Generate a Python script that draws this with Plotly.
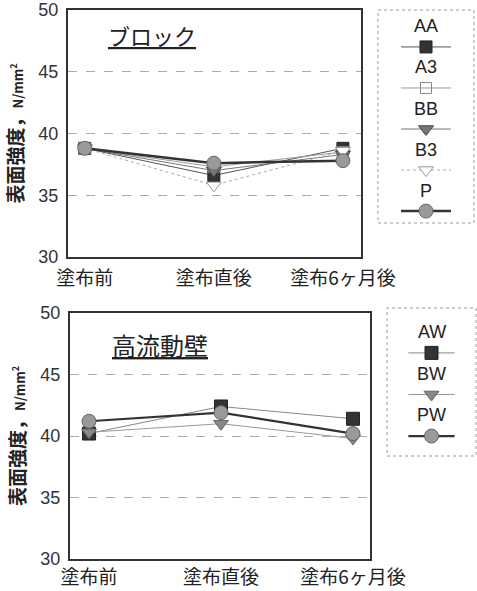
import plotly.graph_objects as go

categories = ["塗布前", "塗布直後", "塗布6ヶ月後"]

# Top chart (ブロック)
top_names = ["AA", "A3", "BB", "B3", "P"]
top_AA = [38.8, 36.6, 38.8]
top_A3 = [38.8, 37.3, 38.5]
top_BB = [38.8, 37.0, 38.3]
top_B3 = [38.8, 35.8, 38.6]
top_P = [38.8, 37.6, 37.8]
top_values = [top_AA, top_A3, top_BB, top_B3, top_P]

# Bottom chart (高流動壁)
bot_names = ["AW", "BW", "PW"]
bot_AW = [40.2, 42.4, 41.4]
bot_BW = [40.3, 41.0, 39.8]
bot_PW = [41.2, 41.9, 40.2]
bot_values = [bot_AW, bot_BW, bot_PW]

y_ticks = [30, 35, 40, 45, 50]

W, H = 477, 591
def px_x(a, b):
    return [a / W, b / W]
def px_y(top, bottom):
    return [1 - bottom / H, 1 - top / H]

styles = {
    "AA": dict(line=dict(color="#555", width=1), marker=dict(symbol="square", size=12, color="#333", line=dict(color="#222", width=1))),
    "A3": dict(line=dict(color="#999", width=1), marker=dict(symbol="square-open", size=11, color="#888", line=dict(color="#888", width=1))),
    "BB": dict(line=dict(color="#777", width=1), marker=dict(symbol="triangle-down", size=13, color="#777", line=dict(color="#444", width=1))),
    "B3": dict(line=dict(color="#aaa", width=1, dash="dot"), marker=dict(symbol="triangle-down", size=13, color="white", line=dict(color="#999", width=1))),
    "P": dict(line=dict(color="#333", width=2.5), marker=dict(symbol="circle", size=14, color="#9a9a9a", line=dict(color="#666", width=1))),
    "AW": dict(line=dict(color="#888", width=1), marker=dict(symbol="square", size=13, color="#333", line=dict(color="#222", width=1))),
    "BW": dict(line=dict(color="#999", width=1), marker=dict(symbol="triangle-down", size=13, color="#888", line=dict(color="#666", width=1))),
    "PW": dict(line=dict(color="#333", width=2.2), marker=dict(symbol="circle", size=14, color="#9a9a9a", line=dict(color="#666", width=1))),
}

fig = go.Figure()
xpos = list(range(len(categories)))

for name, vals in zip(top_names, top_values):
    s = styles[name]
    fig.add_trace(go.Scatter(x=xpos, y=vals, mode="lines+markers", name=name,
                             line=s["line"], marker=s["marker"], xaxis="x", yaxis="y", showlegend=False))
for name, vals in zip(bot_names, bot_values):
    s = styles[name]
    fig.add_trace(go.Scatter(x=xpos, y=vals, mode="lines+markers", name=name,
                             line=s["line"], marker=s["marker"], xaxis="x2", yaxis="y2", showlegend=False))

annotations = []
# Custom legends (Excel style: label above sample)
def add_legend(names, xa, ya):
    for i, name in enumerate(names):
        s = styles[name]
        fig.add_trace(go.Scatter(x=[0.24, 0.76], y=[i, i], mode="lines", line=s["line"],
                                 xaxis=xa, yaxis=ya, showlegend=False, hoverinfo="skip"))
        fig.add_trace(go.Scatter(x=[0.5], y=[i], mode="markers", marker=s["marker"],
                                 xaxis=xa, yaxis=ya, showlegend=False, hoverinfo="skip"))
        annotations.append(dict(x=0.5, y=i - 0.5, xref=xa, yref=ya, text=name, showarrow=False,
                                font=dict(family="Liberation Sans, Arial", size=18, color="#222")))

add_legend(top_names, "x3", "y3")
add_legend(bot_names, "x4", "y4")

tickfont = dict(family="Liberation Sans, Arial", size=18, color="#333")
catfont = dict(family="Noto Sans CJK JP", size=19, color="#222")
ytitle = "<b>表面強度，</b><span style='font-size:13px'><b>N/mm<sup>2</sup></b></span>"

common_y = dict(range=[30, 50], tickvals=y_ticks, showgrid=True, gridcolor="#aaa", griddash="dash",
                gridwidth=1, showline=True, linecolor="#333", linewidth=2, mirror=True,
                ticks="", tickfont=tickfont, zeroline=False, automargin=False, ticklabelstandoff=4,
                title=dict(text=ytitle, font=dict(family="Noto Sans CJK JP", size=19, color="#222"), standoff=10))
common_x = dict(tickvals=xpos, ticktext=categories, showgrid=False, showline=True, linecolor="#333",
                linewidth=2, mirror=True, ticks="", tickfont=catfont, zeroline=False, automargin=False)

fig.update_layout(
    width=W, height=H, margin=dict(l=0, r=0, t=0, b=0, autoexpand=False),
    paper_bgcolor="white", plot_bgcolor="white",
    xaxis=dict(common_x, domain=px_x(68, 361), range=[-0.13, 2.14], anchor="y", ticklabelstandoff=3),
    yaxis=dict(common_y, domain=px_y(10, 257), anchor="x"),
    xaxis2=dict(common_x, domain=px_x(70, 370), range=[-0.144, 2.129], anchor="y2"),
    yaxis2=dict(common_y, domain=px_y(313, 559), anchor="x2"),
    xaxis3=dict(domain=px_x(378, 474), range=[0, 1], visible=False, anchor="y3", automargin=False),
    yaxis3=dict(domain=px_y(10, 223), range=[4.29, -0.90], visible=False, anchor="x3", automargin=False),
    xaxis4=dict(domain=px_x(387, 476), range=[0, 1], visible=False, anchor="y4", automargin=False),
    yaxis4=dict(domain=px_y(308, 456), range=[2.48, -1.08], visible=False, anchor="x4", automargin=False),
    showlegend=False,
)

annotations.append(dict(x=0.52, y=48.0, xref="x", yref="y", text="<u>ブロック</u>", showarrow=False,
                        font=dict(family="Noto Sans CJK JP", size=22, color="#222")))
annotations.append(dict(x=0.54, y=47.4, xref="x2", yref="y2", text="<u>高流動壁</u>", showarrow=False,
                        font=dict(family="Noto Sans CJK JP", size=24, color="#222")))
fig.update_layout(annotations=annotations)

shapes = [
    dict(type="rect", xref="paper", yref="paper", x0=378 / W, x1=474 / W, y0=1 - 223 / H, y1=1 - 10 / H,
         line=dict(color="#999", width=1, dash="dot")),
    dict(type="rect", xref="paper", yref="paper", x0=387 / W, x1=476 / W, y0=1 - 456 / H, y1=1 - 308 / H,
         line=dict(color="#999", width=1, dash="dot")),
]
fig.update_layout(shapes=shapes)

fig.write_html("out.html", config={"displayModeBar": False},
               post_script="document.body.style.margin='0';document.body.style.overflow='hidden';")
